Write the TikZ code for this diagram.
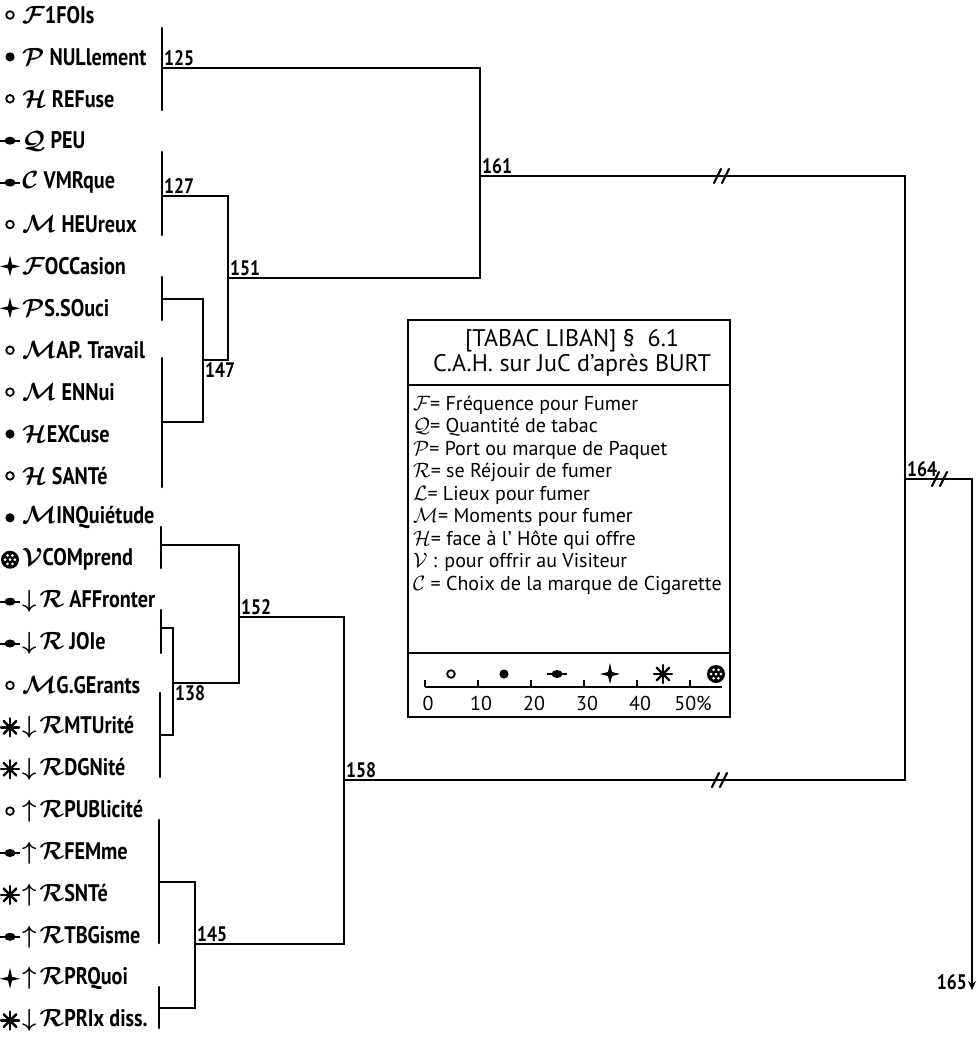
\documentclass[tikz,border=0pt]{standalone}
\usepackage{fontspec}
\setmainfont{PT Sans}
\newfontfamily\handfont[FakeStretch=0.84]{PT Sans}
\usetikzlibrary{arrows.meta}

\tikzset{
  circ/.pic={\draw[line width=1.8pt] (0,0) circle (3.8);},
  dot/.pic={\fill (0,0) circle (4.6);},
  bardot/.pic={\draw[line width=2pt] (-10,0) -- (10,0); \fill (0,0) ellipse (5.5 and 4);},
  star/.pic={\fill (0,-11) -- (2,-2) -- (10,0) -- (2,2) -- (0,10) -- (-2,2) -- (-10,0) -- (-2,-2) -- cycle;},
  aster/.pic={\foreach \a in {0,45,...,315} \draw[line width=2.4pt, line cap=round] (0,0) -- (\a:9);},
  wheel/.pic={\fill (0,0) circle (9);
    \foreach \a in {0,60,...,300} \fill[white] (\a:4.8) circle (1.5);
    \fill[white] (0,0) circle (1.5);},
  slash/.pic={\draw[line width=2.2pt, line cap=round] (-8,7) -- (-1,-7) (0,7) -- (7,-7);}
}

\begin{document}
\begin{tikzpicture}[x=1pt, y=-1pt, >=Stealth,
  link/.style={line width=2.4pt, line cap=round},
  frame/.style={line width=2.2pt},
  num/.style={font=\handfont\fontsize{21}{21}\selectfont\bfseries, inner sep=2pt},
  leaf/.style={anchor=west, inner sep=0pt, font=\handfont\fontsize{24}{24}\selectfont\bfseries\boldmath},
  keyline/.style={anchor=west, inner sep=0pt, font=\fontsize{20}{22}\selectfont},
  title/.style={align=center, inner sep=0pt, font=\fontsize{24}{25}\selectfont}]

  \useasboundingbox (0,0) rectangle (977,1039);

  % leaves, marker then label
  \foreach \m/\t [count=\i] in {
      circ/{$\mathcal{F}$1FOIs}, dot/{$\mathcal{P}$ NULlement}, circ/{$\mathcal{H}$ REFuse},
      bardot/{$\mathcal{Q}$ PEU}, bardot/{$\mathcal{C}$ VMRque}, circ/{$\mathcal{M}$ HEUreux},
      star/{$\mathcal{F}$OCCasion}, star/{$\mathcal{P}$S.SOuci}, circ/{$\mathcal{M}$AP. Travail},
      circ/{$\mathcal{M}$ ENNui}, dot/{$\mathcal{H}$EXCuse}, circ/{$\mathcal{H}$ SANTé},
      dot/{$\mathcal{M}$INQuiétude}, wheel/{$\mathcal{V}$COMprend},
      bardot/{$\downarrow\!\mathcal{R}$ AFFronter}, bardot/{$\downarrow\!\mathcal{R}$ JOIe},
      circ/{$\mathcal{M}$G.GErants}, aster/{$\downarrow\!\mathcal{R}$MTUrité},
      aster/{$\downarrow\!\mathcal{R}$DGNité}, circ/{$\uparrow\!\mathcal{R}$PUBlicité},
      bardot/{$\uparrow\!\mathcal{R}$FEMme}, aster/{$\uparrow\!\mathcal{R}$SNTé},
      bardot/{$\uparrow\!\mathcal{R}$TBGisme}, star/{$\uparrow\!\mathcal{R}$PRQuoi},
      aster/{$\downarrow\!\mathcal{R}$PRIx diss.}} {
    \pic at (10,{15+(\i-1)*41.9}) {\m};
    \node[leaf] (leaf\i) at (22,{15+(\i-1)*41.9}) {\t};
  }

  % junctions of the tree
  \coordinate (n125) at (162,68);
  \coordinate (n127) at (162,196);
  \coordinate (gC) at (162,299);
  \coordinate (gD) at (162,422);
  \coordinate (n147) at (203,360);
  \coordinate (n151) at (228,278);
  \coordinate (n161) at (480,176);
  \coordinate (gE) at (161,545);
  \coordinate (gF) at (161,628);
  \coordinate (gG) at (160,735);
  \coordinate (n138) at (173,683);
  \coordinate (n152) at (239,617);
  \coordinate (gH) at (159,882);
  \coordinate (gI) at (159,1008);
  \coordinate (n145) at (195,944);
  \coordinate (n158) at (344,780);
  \coordinate (n164) at (905,479);
  \coordinate (n165) at (972,990);

  % bars over the leaves
  \draw[link] (162,28) -- (162,110);
  \draw[link] (162,152) -- (162,235);
  \draw[link] (162,277) -- (162,320);
  \draw[link] (162,358) -- (162,487);
  \draw[link] (161,527) -- (161,568);
  \draw[link] (161,610) -- (161,653);
  \draw[link] (160,693) -- (160,777);
  \draw[link] (159,820) -- (159,943);
  \draw[link] (159,987) -- (159,1028);

  \draw[link] (gC) -| (n147);
  \draw[link] (gD) -| (n147);
  \draw[link] (n127) -| (n151);
  \draw[link] (n147) -| (n151);
  \draw[link] (n125) -| (n161);
  \draw[link] (n151) -| (n161);
  \draw[link] (gF) -| (n138);
  \draw[link] (gG) -| (n138);
  \draw[link] (gE) -| (n152);
  \draw[link] (n138) -| (n152);
  \draw[link] (gH) -| (n145);
  \draw[link] (gI) -| (n145);
  \draw[link] (n152) -| (n158);
  \draw[link] (n145) -| (n158);
  \draw[link] (n161) -| (n164);
  \draw[link] (n158) -| (n164);
  \draw[link, -{Stealth[length=9pt,width=8pt]}] (n164) -| (n165);

  \pic at (722,176) {slash};
  \pic at (720,780) {slash};
  \pic at (940,479) {slash};

  \node[num, above right] at (n125) {125};
  \node[num, above right] at (n127) {127};
  \node[num, below right] at (n147) {147};
  \node[num, above right] at (n151) {151};
  \node[num, above right] at (n161) {161};
  \node[num, below right] at (n138) {138};
  \node[num, above right] at (n152) {152};
  \node[num, above right] at (n145) {145};
  \node[num, above right] at (n158) {158};
  \node[num, above right] at (n164) {164};
  \node[num, anchor=east] at ([xshift=-3pt,yshift=8pt]n165) {165};

  % legend
  \draw[frame] (408,320) rectangle (730,717);
  \draw[frame] (408,385) -- (730,385);
  \draw[frame] (408,653) -- (730,653);
  \node[title] (head) at (572,353) {[TABAC LIBAN] §\ \ 6.1\\ C.A.H. sur JuC d'après BURT};

  \foreach \t [count=\k from 0] in {
      {$\mathcal{F}$= Fréquence pour Fumer}, {$\mathcal{Q}$= Quantité de tabac},
      {$\mathcal{P}$= Port ou marque de Paquet}, {$\mathcal{R}$= se Réjouir de fumer},
      {$\mathcal{L}$= Lieux pour fumer}, {$\mathcal{M}$= Moments pour fumer},
      {$\mathcal{H}$= face à l' Hôte qui offre}, {$\mathcal{V}$ : pour offrir au Visiteur},
      {$\mathcal{C}$ = Choix de la marque de Cigarette}}
    \node[keyline] (key\k) at (413,{405+\k*22.5}) {\t};

  \draw[line width=1.8pt] (425,687) -- (722,687);
  \foreach \v [count=\k from 0] in {0,10,20,30,40,50\%} {
    \draw[line width=1.8pt] ({425+\k*53},680) -- ({425+\k*53},687);
    \node[keyline, anchor=center] (tick\k) at ({428+\k*53},703) {\v};
  }
  \foreach \m [count=\k from 0] in {circ,dot,bardot,star,aster,wheel}
    \pic at ({451+\k*53},674) {\m};
\end{tikzpicture}
\end{document}
